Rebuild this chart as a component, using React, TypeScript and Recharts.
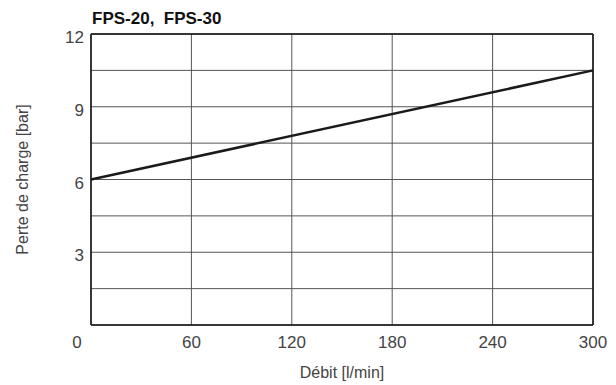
import { CartesianGrid, Line, LineChart, ReferenceLine, XAxis, YAxis } from "recharts";

const flowTicks = [0, 60, 120, 180, 240, 300];
const pressureTicks = [0, 1.5, 3, 4.5, 6, 7.5, 9, 10.5, 12];
const flow = [0, 300];
const pressureDrop = [6, 10.5];

const data = flow.map((f, i) => ({ flow: f, drop: pressureDrop[i] }));

const FONT = '"Liberation Sans", Arial, Helvetica, sans-serif';
const TEXT = "#444";

function FlowTick(props: any) {
  const { x, y, payload } = props;
  const shift = payload.value === 0 ? -14 : 0;
  return (
    <text x={x + shift} y={y + 15} textAnchor="middle" fill={TEXT} fontSize={17} fontFamily={FONT}>
      {payload.value}
    </text>
  );
}

export default function App() {
  return (
    <div style={{ position: "absolute", left: 0, top: 0, width: 616, height: 385, background: "#fff" }}>
      <div
        style={{
          position: "absolute",
          left: 92,
          top: 10,
          lineHeight: "17px",
          fontFamily: FONT,
          fontWeight: "bold",
          fontSize: 17,
          color: "#111",
          whiteSpace: "pre",
        }}
      >
        {"FPS-20,  FPS-30"}
      </div>
      <LineChart width={616} height={385} data={data} margin={{ top: 34, right: 23, left: 0, bottom: 0 }}>
        <CartesianGrid stroke="#555" strokeWidth={1} horizontalValues={pressureTicks} verticalValues={flowTicks} />
        <XAxis
          dataKey="flow"
          type="number"
          domain={[0, 300]}
          ticks={flowTicks}
          height={60}
          tickLine={false}
          axisLine={{ stroke: "#111", strokeWidth: 1.5 }}
          tick={<FlowTick />}
          label={{
            value: "Débit [l/min]",
            position: "insideBottom",
            offset: 7,
            fill: TEXT,
            fontSize: 16,
            fontFamily: FONT,
          }}
        />
        <YAxis
          type="number"
          domain={[0, 12]}
          ticks={pressureTicks}
          width={91}
          tickLine={false}
          axisLine={{ stroke: "#111", strokeWidth: 1.5 }}
          tickFormatter={(v: number) => (v > 0 && v % 3 === 0 ? String(v) : "")}
          tick={{ fill: TEXT, fontSize: 17, fontFamily: FONT, dy: 3 }}
          tickMargin={1}
          label={{
            value: "Perte de charge [bar]",
            angle: -90,
            position: "insideLeft",
            offset: 22,
            style: { textAnchor: "middle" },
            fill: TEXT,
            fontSize: 16,
            fontFamily: FONT,
          }}
        />
        <ReferenceLine y={12} stroke="#111" strokeWidth={1.5} />
        <ReferenceLine x={300} stroke="#111" strokeWidth={1.5} />
        <Line
          type="linear"
          dataKey="drop"
          stroke="#1a1a1a"
          strokeWidth={2.5}
          dot={false}
          isAnimationActive={false}
        />
      </LineChart>
    </div>
  );
}
